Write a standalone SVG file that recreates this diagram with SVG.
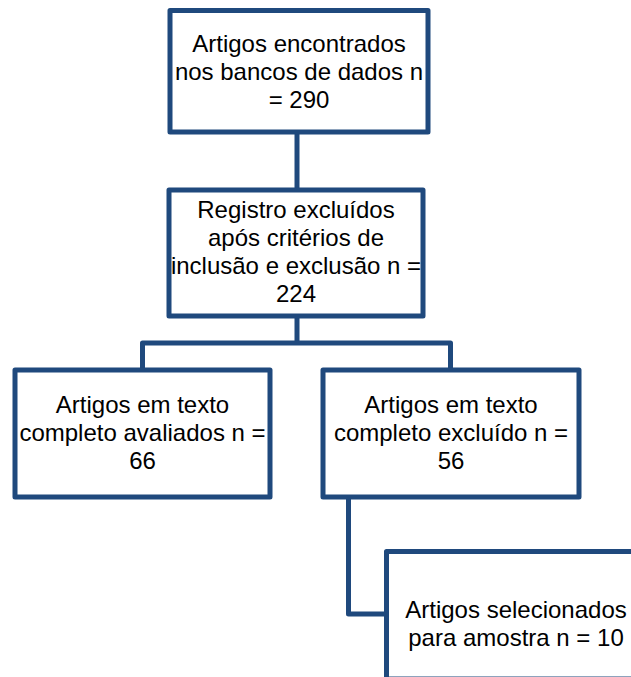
<svg xmlns="http://www.w3.org/2000/svg" width="631" height="677" viewBox="0 0 631 677">
<style>
.box{fill:#ffffff;stroke:#1f497d;stroke-width:5;stroke-linejoin:round}
.con{fill:none;stroke:#1f497d;stroke-width:5;stroke-linejoin:round}
text{font-family:"Liberation Sans",Arial,sans-serif;font-size:24px;fill:#000;text-anchor:middle}
</style>
<rect width="631" height="677" fill="#ffffff"/>
<g id="connectors">
<path class="con" d="M297,132 V190"/>
<path class="con" d="M297,316 V343 M142.5,370 V343 H450.5 V370"/>
<path class="con" d="M348.5,497 V614 H386.5"/>
</g>
<g id="n1">
<rect class="box" x="170" y="10.5" width="258" height="121.5"/>
<text x="299" y="52">Artigos encontrados</text>
<text x="299" y="80">nos bancos de dados n</text>
<text x="299" y="108">= 290</text>
</g>
<g id="n2">
<rect class="box" x="169" y="190" width="254" height="126"/>
<text x="296" y="218">Registro excluídos</text>
<text x="296" y="246">após critérios de</text>
<text x="296" y="274">inclusão e exclusão n =</text>
<text x="296" y="302">224</text>
</g>
<g id="n3">
<rect class="box" x="15" y="370" width="255" height="127"/>
<text x="142.5" y="413">Artigos em texto</text>
<text x="142.5" y="441">completo avaliados n =</text>
<text x="142.5" y="469">66</text>
</g>
<g id="n4">
<rect class="box" x="323" y="370" width="256" height="127"/>
<text x="451" y="413">Artigos em texto</text>
<text x="451" y="441">completo excluído n =</text>
<text x="451" y="469">56</text>
</g>
<g id="n5">
<rect class="box" x="386.5" y="551.5" width="260" height="127.5"/>
<text x="516" y="618">Artigos selecionados</text>
<text x="516" y="646">para amostra n = 10</text>
</g>
</svg>
